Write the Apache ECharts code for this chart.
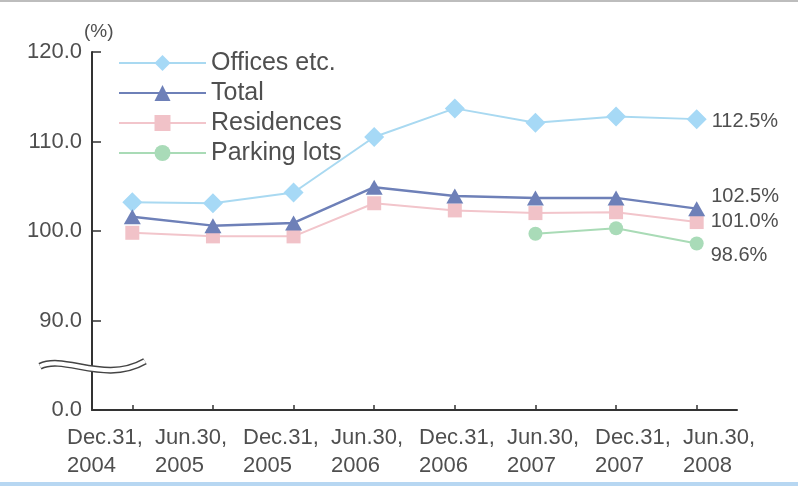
<!DOCTYPE html>
<html>
<head>
<meta charset="utf-8">
<script src="https://cdn.jsdelivr.net/npm/echarts@6/dist/echarts.min.js"></script>
<style>
  html, body { margin: 0; padding: 0; background: #fff; }
  #chart { width: 798px; height: 486px; }
</style>
</head>
<body>
<div id="chart"></div>
<script>
// Occupancy-style rate (%) by reporting date
const categories = [
  'Dec.31,\n2004', 'Jun.30,\n2005', 'Dec.31,\n2005', 'Jun.30,\n2006',
  'Dec.31,\n2006', 'Jun.30,\n2007', 'Dec.31,\n2007', 'Jun.30,\n2008'
];
const offices    = [103.2, 103.1, 104.3, 110.5, 113.7, 112.1, 112.8, 112.5];
const total      = [101.6, 100.6, 100.9, 104.9, 103.9, 103.7, 103.7, 102.5];
const residences = [99.8, 99.4, 99.4, 103.1, 102.3, 102.0, 102.1, 101.0];
const parking    = [null, null, null, null, null, 99.7, 100.3, 98.6];

// The axis is broken below 90: its floor stands for 0.0
const yTickValues = [80, 90, 100, 110, 120];
const yTickLabels = ['0.0', '90.0', '100.0', '110.0', '120.0'];

const FONT = "'Liberation Sans', Arial, Helvetica, sans-serif";
const TEXT = '#4f4f4f';
const AXIS = '#333333';
const GRID_LEFT = 92;

const chart = echarts.init(document.getElementById('chart'), null, { renderer: 'canvas' });

function withEndLabel(values, labelOpts) {
  const last = values.length - 1;
  return values.map((v, i) => i === last
    ? { value: v, label: Object.assign({ show: true, formatter: p => p.value.toFixed(1) + '%' }, labelOpts) }
    : v);
}

const endLabelBase = {
  position: 'right',
  color: TEXT,
  fontFamily: FONT,
  fontSize: 20
};

chart.setOption({
  animation: false,
  backgroundColor: '#ffffff',
  textStyle: { fontFamily: FONT },
  legend: {
    orient: 'vertical',
    left: 118,
    top: 50,
    padding: 0,
    itemWidth: 87,
    itemHeight: 20,
    itemGap: 4,
    textStyle: { color: TEXT, fontFamily: FONT, fontSize: 25, lineHeight: 26 },
    data: ['Offices etc.', 'Total', 'Residences', 'Parking lots']
  },
  grid: [
    { left: GRID_LEFT, right: 61, top: 52, bottom: 76 },
    { left: 23, right: 71, top: 52, bottom: 76 }
  ],
  xAxis: [
    {
      type: 'category',
      gridIndex: 0,
      data: categories,
      boundaryGap: true,
      axisLine: { lineStyle: { color: AXIS, width: 2 } },
      axisTick: { show: true, alignWithLabel: true, inside: true, length: 5, lineStyle: { color: AXIS, width: 1.5 } },
      axisLabel: { show: false },
      splitLine: { show: false }
    },
    {
      // date labels, laid out on their own band
      type: 'category',
      gridIndex: 1,
      data: categories,
      boundaryGap: true,
      axisLine: { show: false },
      axisTick: { show: false },
      axisLabel: {
        align: 'left',
        margin: 14,
        color: TEXT,
        fontFamily: FONT,
        fontSize: 22,
        lineHeight: 28,
        interval: 0
      },
      splitLine: { show: false }
    }
  ],
  yAxis: [
    {
      type: 'value',
      gridIndex: 0,
      min: 80,
      max: 120,
      interval: 10,
      name: '(%)',
      nameLocation: 'end',
      nameGap: 6,
      nameTextStyle: { color: TEXT, fontFamily: FONT, fontSize: 19, align: 'left', padding: [0, 0, 0, -8] },
      axisLine: { show: true, lineStyle: { color: AXIS, width: 2 } },
      axisTick: { show: true, inside: true, length: 9, lineStyle: { color: AXIS, width: 1.5 } },
      axisLabel: {
        color: TEXT,
        fontFamily: FONT,
        fontSize: 22,
        margin: 10,
        formatter: v => {
          const i = yTickValues.indexOf(v);
          return i >= 0 ? yTickLabels[i] : '';
        }
      },
      splitLine: { show: false }
    },
    { type: 'value', gridIndex: 1, show: false, min: 0, max: 1 }
  ],
  series: [
    {
      name: 'Offices etc.',
      type: 'line',
      z: 2,
      data: withEndLabel(offices, Object.assign({}, endLabelBase, { distance: 5, offset: [0, 2] })),
      symbol: 'diamond',
      symbolSize: 20,
      lineStyle: { color: '#a9d9f1', width: 2 },
      itemStyle: { color: '#a6d9f6' }
    },
    {
      name: 'Total',
      type: 'line',
      z: 4,
      data: withEndLabel(total, Object.assign({}, endLabelBase, { distance: 6, offset: [0, -12] })),
      symbol: 'triangle',
      symbolSize: [17, 15],
      lineStyle: { color: '#6e80b8', width: 2.5 },
      itemStyle: { color: '#6e80b8' }
    },
    {
      name: 'Residences',
      type: 'line',
      z: 3,
      data: withEndLabel(residences, Object.assign({}, endLabelBase, { distance: 7, offset: [0, -1] })),
      symbol: 'rect',
      symbolSize: 14,
      lineStyle: { color: '#f2c5cb', width: 2 },
      itemStyle: { color: '#f1c2c8' }
    },
    {
      name: 'Parking lots',
      type: 'line',
      z: 3,
      data: withEndLabel(parking, Object.assign({}, endLabelBase, { distance: 7, offset: [0, 12] })),
      symbol: 'circle',
      symbolSize: 14,
      connectNulls: false,
      lineStyle: { color: '#a9dbb6', width: 2 },
      itemStyle: { color: '#a9dbb8' }
    }
  ]
});

// Frame lines and the axis-break squiggle
const breakY = chart.convertToPixel({ yAxisIndex: 0 }, 85);
const wave = {
  x1: GRID_LEFT - 52, y1: breakY + 1,
  cpx1: GRID_LEFT - 27, cpy1: breakY - 11,
  cpx2: GRID_LEFT + 13, cpy2: breakY + 19,
  x2: GRID_LEFT + 53, y2: breakY - 4
};
chart.setOption({
  graphic: [
    { type: 'rect', shape: { x: 0, y: 0, width: 798, height: 2 }, style: { fill: '#bdbdbd' }, silent: true },
    { type: 'rect', shape: { x: 0, y: 482, width: 798, height: 4 }, style: { fill: '#b7d7f2' }, silent: true },
    { type: 'bezierCurve', shape: wave, style: { stroke: '#444', lineWidth: 7, fill: null }, z: 100, silent: true },
    { type: 'bezierCurve', shape: wave, style: { stroke: '#fff', lineWidth: 4, fill: null }, z: 101, silent: true }
  ]
});
</script>
</body>
</html>
